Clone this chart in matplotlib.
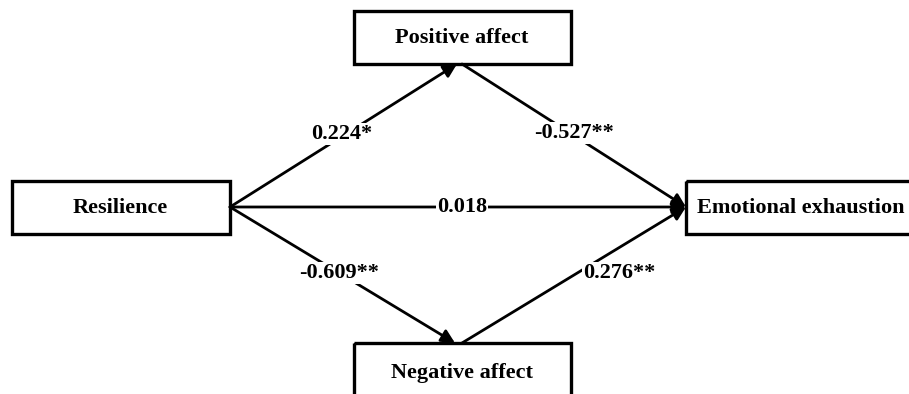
import matplotlib.pyplot as plt
from matplotlib.patches import Rectangle

# path model data
nodes = ["Resilience", "Positive affect", "Negative affect", "Emotional exhaustion"]
paths = [("Resilience", "Positive affect"),
         ("Positive affect", "Emotional exhaustion"),
         ("Resilience", "Emotional exhaustion"),
         ("Resilience", "Negative affect"),
         ("Negative affect", "Emotional exhaustion")]
coefs = ["0.224*", "-0.527**", "0.018", "-0.609**", "0.276**"]

# layout in pixel coordinates (x0, y0, x1, y1)
boxes = {
    "Resilience": (12, 181, 230, 234),
    "Positive affect": (354, 11, 571, 64),
    "Negative affect": (354, 343, 571, 420),
    "Emotional exhaustion": (686, 181, 930, 234),
}
# start / end points of each path
ends = [((230, 207), (457, 64)),
        ((462, 64), (686, 207)),
        ((230, 207), (686, 207)),
        ((230, 207), (455, 343)),
        ((462, 343), (686, 207))]
label_pos = [(342, 134), (574, 133), (462, 207), (339, 273), (619, 273)]
text_pos = {
    "Resilience": (120, 208),
    "Positive affect": (462, 38),
    "Negative affect": (462, 373),
    "Emotional exhaustion": (801, 208),
}

plt.rcParams['font.family'] = ['Liberation Serif', 'DejaVu Serif']

fig = plt.figure(figsize=(9.09, 3.94), dpi=100)
ax = fig.add_axes([0, 0, 1, 1])
ax.set_xlim(0, 909)
ax.set_ylim(394, 0)
ax.axis('off')

for name in nodes:
    x0, y0, x1, y1 = boxes[name]
    ax.add_patch(Rectangle((x0, y0), x1 - x0, y1 - y0, fill=False,
                           edgecolor='black', lw=2.4, zorder=3))
    tx, ty = text_pos[name]
    ax.text(tx, ty, name, ha='center', va='center', fontsize=16,
            fontweight='bold', zorder=4)

for (p0, p1), lab, lp in zip(ends, coefs, label_pos):
    ax.annotate("", xy=p1, xytext=p0,
                arrowprops=dict(arrowstyle='-|>', mutation_scale=20, lw=2,
                                color='black', shrinkA=0, shrinkB=0),
                zorder=2)
    ax.text(lp[0], lp[1], lab, ha='center', va='center', fontsize=16,
            fontweight='bold', zorder=5,
            bbox=dict(facecolor='white', edgecolor='none', pad=1))

fig.savefig("out.png", dpi=100)
